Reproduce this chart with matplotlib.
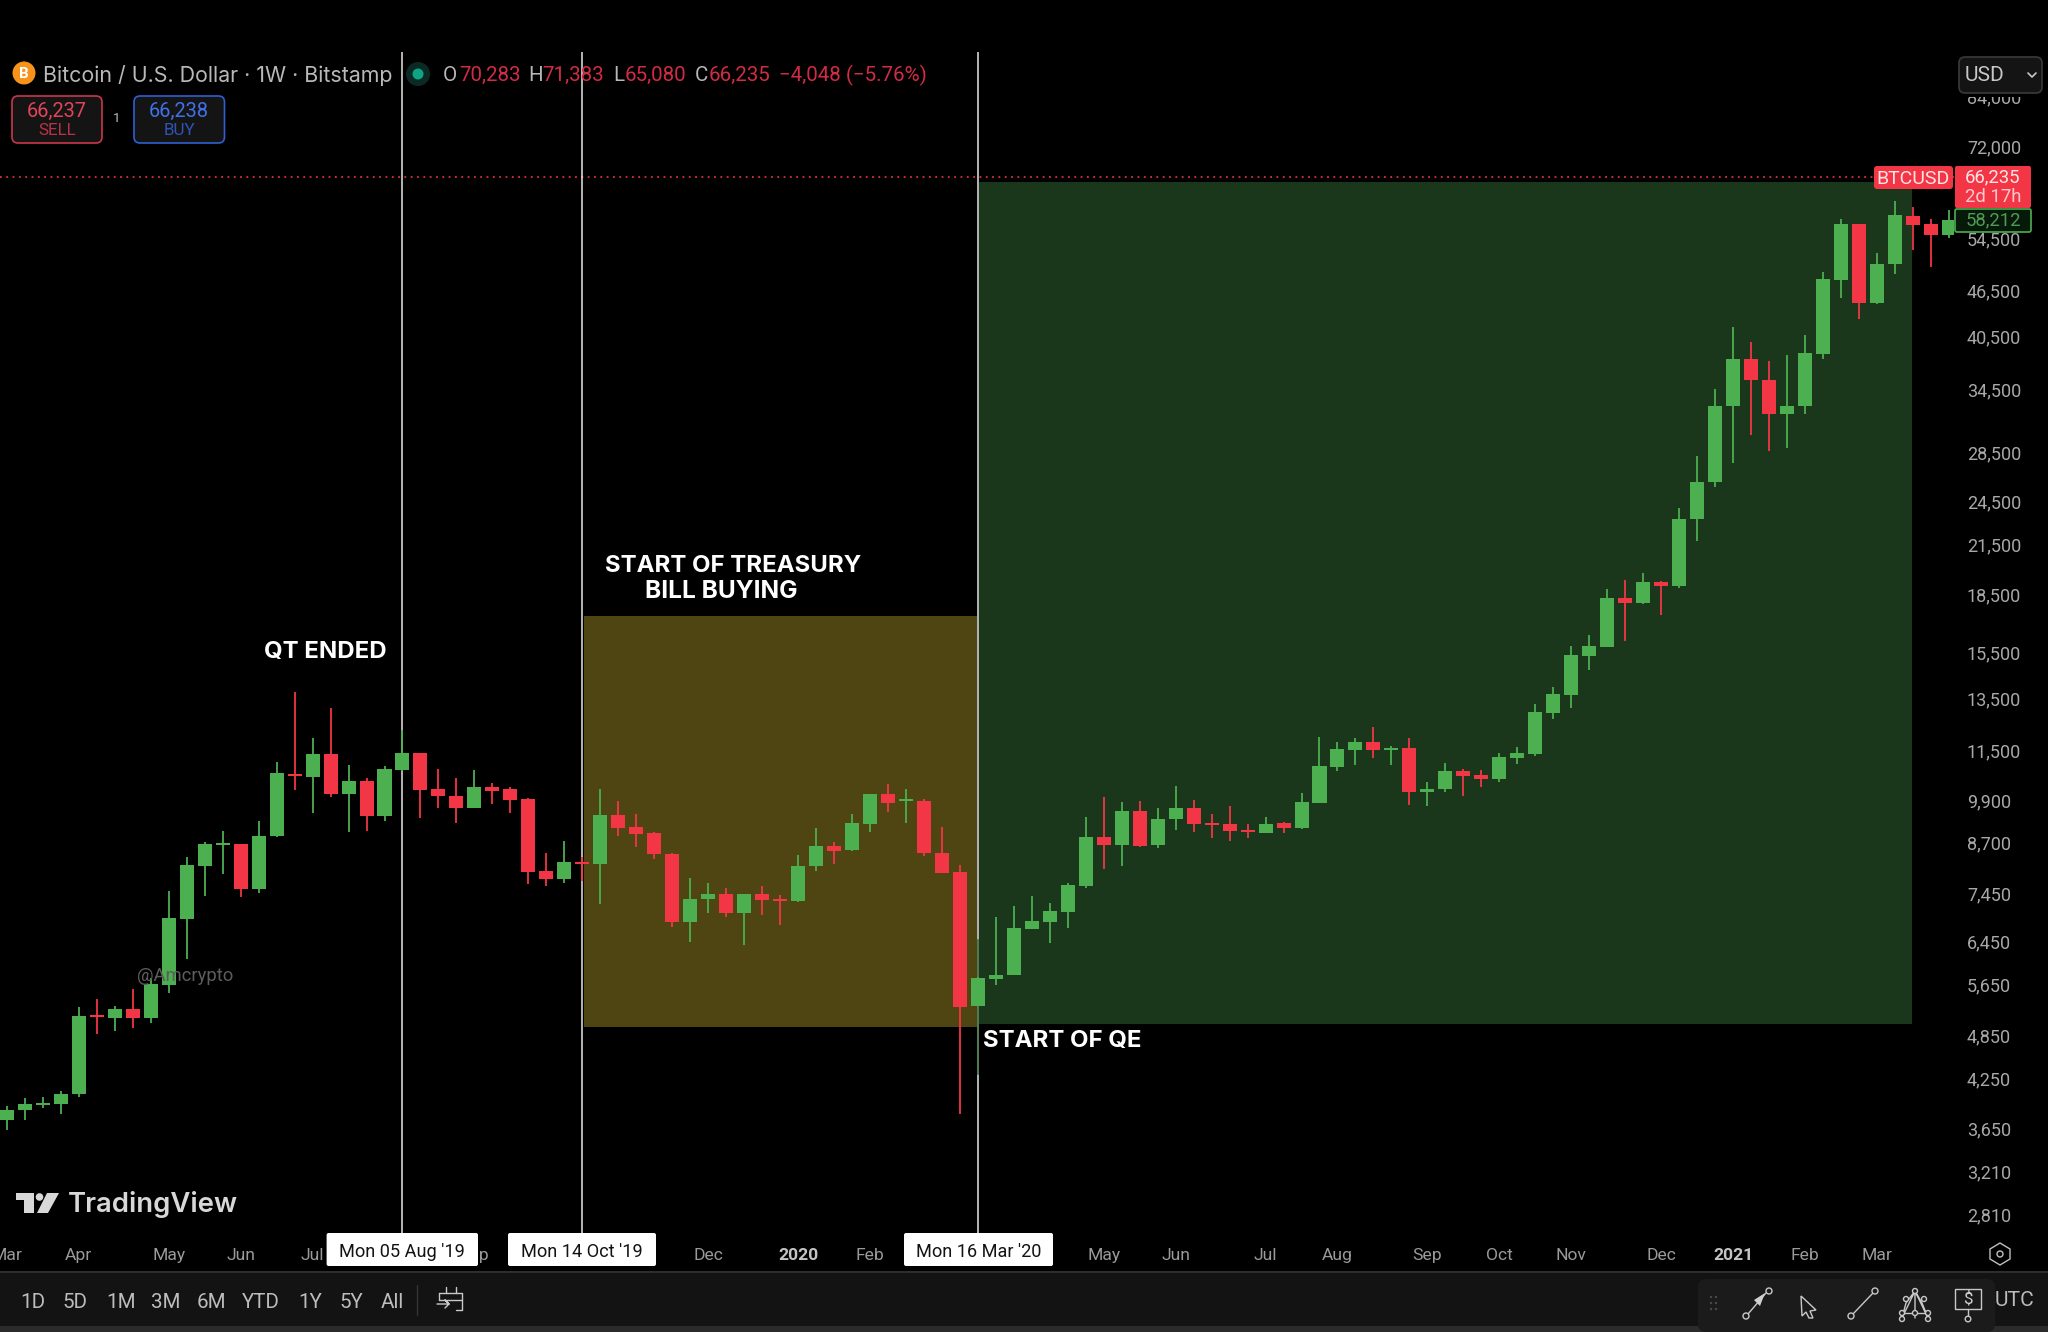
import matplotlib
matplotlib.use("Agg")
import matplotlib.pyplot as plt
from matplotlib.patches import Rectangle, FancyBboxPatch, Circle, Polygon
from matplotlib.transforms import ScaledTranslation

plt.rcParams["font.family"] = ["Roboto", "DejaVu Sans"]

opens = [3762,3879,3937,3945,4067,5160,5124,5276,5124,5669,6920,8145,8672,8690,7580,8922,10750,10672,11421,10125,
         10544,9480,10903,11468,10270,10064,9704,10332,10270,9971,8013,7814,8228,8179,9501,9161,8988,8446,6857,7355,
         7474,7062,7474,7355,7311,8123,8655,8542,9244,10117,9903,9913,8465,7995,5320,5780,5838,6727,6857,7083,
         7657,8876,8673,9615,8664,9376,9707,9279,9233,9066,9003,9258,9139,9862,10990,11578,11857,11578,11630,10197,
         10272,10870,10720,10582,11298,11437,12937,13670,15394,15835,18351,18077,19292,19024,23315,26095,32844,37976,35625,32088,
         32918,38530,48218,57100,44893,50540,58510,57100,55340]
highs = [3929,4018,4030,4108,5308,5428,5325,5595,5785,7549,8354,8761,9040,8700,9328,11169,13788,11990,13134,11068,
         10618,11033,12298,11468,10914,10618,10892,10480,10332,9990,8473,8778,8370,10281,9913,9540,9012,8454,7838,7720,
         7602,7474,7655,7452,8412,9124,8745,9530,10130,10447,10264,9972,9170,8162,5800,6963,7206,7428,7279,7719,
         9432,10022,9892,9922,9700,10384,9942,9532,9747,9233,9432,9297,10143,12026,11857,12015,12397,11720,12015,10512,
         11113,10935,10892,11456,11660,13303,14016,15872,16396,18893,19360,19792,19337,24142,28240,34606,41774,39883,37670,38380,
         40814,49430,57968,57170,52272,61290,60190,58035,59640]
lows = [3650,3762,3898,3827,4039,4886,4923,4973,5048,5539,6141,7428,7941,7398,7493,8886,10249,9548,10044,9013,
        9054,9328,10871,9404,9694,9262,9690,9812,9548,7696,7657,7720,7775,7258,8914,8612,8320,6755,6466,7048,
        6978,6395,7013,6802,7300,8010,8190,8525,9033,9580,9263,8390,7960,3832,5310,5660,5835,6714,6434,6733,
        7620,8063,8136,8630,8595,9075,9021,8860,8764,8852,9000,8985,9094,9860,10870,11057,11285,11057,9792,9772,
        10197,10062,10343,10488,11100,11371,12728,13149,14734,15800,16113,18034,17437,18914,21795,25704,27624,30110,28703,28971,
        32126,37913,45682,42795,44790,49100,52810,50140,54700]
closes = [3879,3945,3957,4071,5165,5140,5276,5124,5681,6948,8153,8690,8707,7580,8922,10781,10693,11421,10125,10533,
          9461,10914,11468,10259,10064,9704,10332,10228,9953,7990,7814,8236,8187,9501,9143,8952,8431,6864,7361,7474,
          7062,7474,7341,7319,8140,8647,8525,9263,10117,9850,9942,8470,7966,5309,5786,5838,6741,6877,7090,7673,
          8876,8664,9615,8647,9386,9707,9249,9224,9048,9012,9249,9130,9882,11012,11607,11857,11566,11625,10187,10272,
          10870,10698,10603,11317,11456,12966,13694,15417,15890,18351,18077,19292,19024,23342,26095,32880,37976,35584,32088,32918,
          38570,48415,57100,44893,50599,58710,56900,55340,57770]
weeks = list(range(len(opens)))

price_ticks = [84000,72000,54500,46500,40500,34500,28500,24500,21500,18500,15500,13500,11500,9900,8700,7450,6450,5650,4850,4250,3650,3210,2810]
month_weeks = [0,4,9,13,17,26,39,44,48,61,65,70,74,79,83,87,92,96,100,104]
month_labels = ["Mar","Apr","May","Jun","Jul","Sep","Dec","2020","Feb","May","Jun","Jul","Aug","Sep","Oct","Nov","Dec","2021","Feb","Mar"]
event_weeks = [22,32,54]
event_labels = ["Mon 05 Aug '19","Mon 14 Oct '19","Mon 16 Mar '20"]
price_line = 65830
# shaded zones: start week, end week, low, high
treasury_zone = [32.1,53.95,4989,17383]
qe_zone = [54.09,105.93,5034,64937]

GREEN = "#4caf50"; RED = "#f23645"; GREY = "#a8a8a8"; DIMRED = "#d22c44"
W = 2048; H = 1332
def px(n):  # font size given in pixels
    return n*72/100

fig = plt.figure(figsize=(20.48,13.32),dpi=100,facecolor="black")
ax = fig.add_axes([0,(H-1233)/H,1953.5/W,(1233-52)/H],facecolor="black")
ax.set_yscale("log")
ax.set_xlim(-0.384,108.26)
ax.set_ylim(2669,96350)
for s in ax.spines.values():
    s.set_visible(False)

for x0,x1,lo,hi,c in [treasury_zone+["#4e4512"],qe_zone+["#1a371b"]]:
    ax.fill_between([x0,x1],lo,hi,color=c,lw=0,zorder=1)
ax.axhline(price_line,color=RED,lw=1.3,ls=(0,(1,2.5)),alpha=0.9,zorder=2)
for w in event_weeks:
    ax.axvline(w,color="white",lw=1.1,alpha=0.9,zorder=2)
ax.plot([54,54],[4330,6500],color="#3f6f42",lw=1.2,zorder=2.5)

colors = [GREEN if c>=o else RED for o,c in zip(opens,closes)]
ax.vlines(weeks,lows,highs,colors=colors,lw=1.3,zorder=3)
ax.bar(weeks,[max(abs(c-o),o*0.006) for o,c in zip(opens,closes)],width=0.78,
       bottom=[min(o,c) for o,c in zip(opens,closes)],color=colors,lw=0,zorder=3)

ax.set_yticks(price_ticks,[f"{p:,}" for p in price_ticks])
ax.minorticks_off()
ax.yaxis.tick_right()
ax.tick_params(axis="y",length=0,pad=9.7,labelsize=px(18),labelcolor=GREY)
up = ScaledTranslation(0,1.2/100,fig.dpi_scale_trans)
for t in ax.get_yticklabels():
    t.set_transform(t.get_transform()+up)
ax.set_xticks(month_weeks,month_labels)
ax.tick_params(axis="x",length=0,pad=10.6,labelsize=px(17.5),labelcolor="#9a9a9a")
for t in ax.get_xticklabels():
    if t.get_text() in ("2020","2021"):
        t.set_fontweight("bold"); t.set_color("#c4c4c4")

# everything round the chart, in pixel coordinates of the screenshot
ui = fig.add_axes([0,0,1,1],facecolor="none",zorder=5)
ui.set_xlim(0,W); ui.set_ylim(H,0); ui.axis("off")

def box(x0,y0,x1,y1,fc,ec="none",r=0,lw=1.2,z=2):
    if r:
        p = FancyBboxPatch((x0+r,y0+r),x1-x0-2*r,y1-y0-2*r,boxstyle=f"round,pad={r},rounding_size={r}",fc=fc,ec=ec,lw=lw,zorder=z)
    else:
        p = Rectangle((x0,y0),x1-x0,y1-y0,fc=fc,ec=ec,lw=lw,zorder=z)
    ui.add_patch(p)
def txt(x,y,s,size,c="#b8b8b8",ha="left",w="normal",z=4,fam=None):
    ui.text(x,y,s,fontsize=px(size),color=c,ha=ha,va="center",fontweight=w,zorder=z,family=fam or ["Roboto","DejaVu Sans"])
def lines(xs,ys,c="#c8c8c8",lw=1.0):
    ui.plot(xs,ys,color=c,lw=lw,zorder=4,solid_capstyle="round")

# header
ui.add_patch(Circle((24,73),11.5,fc="#f7931a",ec="none",zorder=3))
txt(24,74,"B",15,"white","center","bold")
txt(43,76,"Bitcoin / U.S. Dollar · 1W · Bitstamp",21.4,fam=["Inter"])
ui.add_patch(Circle((418,74),12,fc="#0b2a26",ec="none",zorder=3))
ui.add_patch(Circle((418,74),5.5,fc="#0fa584",ec="none",zorder=3))
for x,s,c in [(443,"O","#b8b8b8"),(459,"70,283",DIMRED),(528,"H","#b8b8b8"),(542,"71,383",DIMRED),(613,"L","#b8b8b8"),
              (625,"65,080",DIMRED),(695,"C","#b8b8b8"),(709,"66,235",DIMRED),(779,"−4,048 (−5.76%)",DIMRED)]:
    txt(x,75.5,s,20.5,c)
box(12,96,102,143,"#141414","#c8374a",r=6)
box(134,96,224.5,143,"#141414","#2f5fd0",r=6)
txt(57,111,"66,237",20,"#e0455a","center"); txt(57,130.5,"SELL",17,"#b83347","center")
txt(179,111,"66,238",20,"#3f72e8","center"); txt(179,130.5,"BUY",17,"#2f55b8","center")
txt(117,119,"1",13,"#c0c0c0","center")

# price scale top and last price flags
box(1955,0,W,97,"black")
box(1959,57,2042,93,"#141414","#3a3a3a",r=6)
txt(1965,75.5,"USD",21,"#c8c8c8")
lines([2028,2032,2036],[73,77,73],"#c8c8c8",1.2)
box(1874,166,1953,189,RED,r=3)
txt(1913.5,178.5,"BTCUSD",19.5,"#ffe4e6","center")
box(1955,166,2031,208,RED,r=2)
txt(1993,177,"66,235",18.5,"#ffe4e6","center"); txt(1993,196.5,"2d 17h",18.5,"#ffc8ce","center")
box(1955,209,2031,232,"#071a09",GREEN,r=2)
txt(1993,220.5,"58,212",18.5,"#4f9a55","center")

# annotations
txt(264,652,"QT ENDED",24,"white",w="bold",fam=["Inter"])
txt(605,566,"START OF TREASURY",24,"white",w="bold",fam=["Inter"])
txt(645,592,"BILL BUYING",24.5,"white",w="bold",fam=["Inter"])
txt(983,1041,"START OF QE",24,"white",w="bold",fam=["Inter"])
ui.text(137,976,"@Amcrypto",fontsize=px(18.5),color="#5c5c5c",ha="left",va="center",zorder=0)

# TradingView logo
logo = "#d8d8d8"
ui.add_patch(Polygon([(16,1193),(34,1193),(34,1213),(24,1213),(24,1200),(16,1200)],fc=logo,ec="none",zorder=4))
ui.add_patch(Circle((39.5,1197),3.8,fc=logo,ec="none",zorder=4))
ui.add_patch(Polygon([(47,1193),(59,1193),(48,1213),(37,1213)],fc=logo,ec="none",zorder=4))
ui.text(68,1205,"TradingView",fontsize=px(27.5),color=logo,ha="left",va="center",fontweight="semibold",zorder=4,family=["Inter"])

# crosshair date boxes
for x0,x1,s in zip([326.6,508,904],[478,656,1053],event_labels):
    box(x0,1233,x1,1266,"white",r=2)
    txt((x0+x1)/2,1252,s,18.2,"#131313","center")
# gear
ui.add_patch(Polygon([(2000,1243),(2010,1249),(2010,1259),(2000,1265),(1990,1259),(1990,1249)],fc="none",ec="#c0c0c0",lw=1,zorder=4))
ui.add_patch(Circle((2000,1254),3,fc="none",ec="#c0c0c0",lw=1,zorder=4))

# bottom toolbar
box(0,1272,W,1326,"#131313",z=2)
box(0,1326,W,H,"#2b2b2b",z=2)
box(0,1271,W,1273,"#2e2e2e",z=2)
for x,s in zip([33,75,121,166,211,261,310,351,392],["1D","5D","1M","3M","6M","YTD","1Y","5Y","All"]):
    txt(x,1302,s,20.5,"#bdbdbd","center")
lines([417,417],[1285,1315],"#333333",1)
# calendar icon
lines([439,462,462,456],[1293,1293,1310,1310],lw=1); lines([439,439],[1293,1300],lw=1); lines([439,462],[1300,1300],lw=1)
lines([446,446],[1287,1293],lw=1); lines([456,456],[1287,1293],lw=1); lines([437,449,445,449,445],[1304,1304,1300,1304,1308],lw=1)
box(1698,1279,1995,H,"#1b1b1b",r=8,z=2.5)
for x in [1711,1716]:
    for y in [1297,1303,1309]:
        ui.add_patch(Circle((x,y),1.2,fc="#4a4a4a",ec="none",zorder=4))
# line tools
lines([1748,1766],[1314,1293]); ui.add_patch(Circle((1746,1316),3,fc="#1b1b1b",ec="#c8c8c8",lw=1,zorder=4.5))
ui.add_patch(Circle((1769,1291),3,fc="#1b1b1b",ec="#c8c8c8",lw=1,zorder=4.5))
ui.add_patch(Polygon([(1765,1293),(1754,1300),(1760,1306)],fc="#d0d0d0",ec="none",zorder=4))
ui.add_patch(Polygon([(1801,1296),(1816,1310),(1810,1311),(1813,1318),(1809,1318),(1806,1312),(1802,1316)],fc="none",ec="#c8c8c8",lw=1,zorder=4))
lines([1853,1873],[1314,1293]); ui.add_patch(Circle((1851,1316),3,fc="#1b1b1b",ec="#c8c8c8",lw=1,zorder=4.5))
ui.add_patch(Circle((1875,1291),3,fc="#1b1b1b",ec="#c8c8c8",lw=1,zorder=4.5))
# pitchfork
lines([1902,1928],[1313,1313]); lines([1915,1906,1902,1915,1922,1928,1915,1915],[1291,1303,1318,1291,1303,1318,1291,1318])
for x,y in [(1915,1291),(1906,1299),(1924,1299),(1902,1313),(1928,1313),(1915,1313),(1902,1319),(1928,1319)]:
    ui.add_patch(Circle((x,y),2.5,fc="#1b1b1b",ec="#c8c8c8",lw=1,zorder=4.5))
# dollar
box(1955,1289,1981,1309,"none","#c8c8c8",lw=1,z=4); txt(1968,1299,"$",17,"#d0d0d0","center")
lines([1968,1968],[1309,1316]); ui.add_patch(Circle((1968,1319),2.8,fc="#1b1b1b",ec="#c8c8c8",lw=1,zorder=4.5))
txt(2014,1301,"UTC",21,"#bdbdbd","center")

fig.savefig("out.png",dpi=100,facecolor="black")
